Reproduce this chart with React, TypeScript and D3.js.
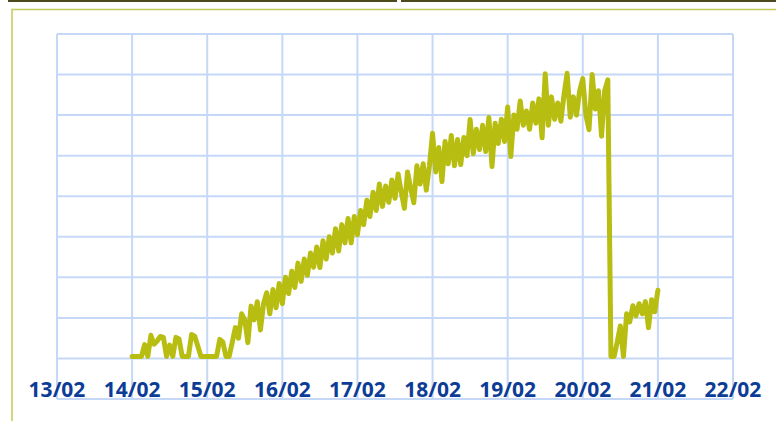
import React, { useEffect, useRef } from "react";
import * as d3 from "d3";

// hourly readings, one array per day (value units: gridline every 10)
const day14 = [0.5, 0.5, 0.5, 0.5, 3.4, 0.5, 5.7, 3.5, 4.3, 5.4, 5.2, 0.5, 3.3, 0.5, 5.2, 4.8, 0.5, 0.5, 0.5, 5.9, 5.5, 3.0, 0.5, 0.5];
const day15 = [0.5, 0.5, 0.5, 0.5, 4.7, 4.0, 0.5, 0.5, 4.0, 7.6, 5.0, 11.0, 9.5, 3.9, 12.9, 9.5, 14.0, 7.0, 13.5, 16.2, 11.0, 17.0, 12.5, 18.5];
const day16 = [13.5, 20.0, 16.0, 21.5, 17.5, 23.5, 19.0, 24.5, 20.5, 26.0, 22.5, 27.5, 22.4, 29.0, 24.5, 30.0, 26.0, 32.0, 26.5, 33.0, 28.5, 34.5, 28.5, 35.0];
const day17 = [30.5, 36.5, 33.0, 39.0, 35.0, 41.0, 36.5, 43.0, 37.5, 42.5, 38.5, 44.0, 39.5, 45.5, 41.0, 37.0, 46.0, 42.0, 38.4, 47.5, 43.0, 48.0, 41.5, 47.5];
const day18 = [55.5, 46.0, 52.0, 43.6, 53.5, 48.0, 55.0, 47.5, 54.0, 47.8, 54.5, 50.0, 58.9, 50.5, 56.5, 51.5, 57.5, 51.0, 59.4, 47.3, 58.0, 53.0, 59.0, 53.5];
const day19 = [62.0, 49.8, 60.0, 56.5, 63.5, 57.5, 61.0, 56.5, 63.0, 58.0, 64.0, 54.4, 70.2, 57.5, 64.5, 59.0, 63.0, 58.5, 65.0, 70.3, 59.5, 64.5, 60.0, 66.0];
const day20 = [69.0, 60.0, 56.4, 70.0, 61.5, 66.0, 54.8, 66.0, 68.7, 0.5, 0.5, 4.0, 8.0, 0.5, 11.0, 9.0, 13.0, 10.5, 13.5, 11.0, 14.0, 7.6, 14.5, 11.5];
const day21 = [16.8];

const tickDays = ["13/02", "14/02", "15/02", "16/02", "17/02", "18/02", "19/02", "20/02", "21/02", "22/02"];
const yTicks = [-10, 0, 10, 20, 30, 40, 50, 60, 70, 80];

const W = 776;
const H = 421;

export default function App() {
  const ref = useRef<SVGSVGElement>(null);

  useEffect(() => {
    const svg = d3.select(ref.current);
    svg.selectAll("*").remove();

    const start = new Date(2021, 1, 14);
    const values = [...day14, ...day15, ...day16, ...day17, ...day18, ...day19, ...day20, ...day21];
    const data = values.map((v, i) => ({ date: d3.timeHour.offset(start, i), value: v }));

    const x = d3.scaleTime()
      .domain([new Date(2021, 1, 13), new Date(2021, 1, 22)])
      .range([57, 733]);
    const y = d3.scaleLinear().domain([-10, 80]).range([399, 34]);

    // photo strip at the very top + frame
    svg.append("rect").attr("x", 8).attr("y", 0).attr("width", 389).attr("height", 2).attr("fill", "#4d4a1c");
    svg.append("rect").attr("x", 401).attr("y", 0).attr("width", 375).attr("height", 2).attr("fill", "#4d4a1c");
    svg.append("rect")
      .attr("x", 12).attr("y", 9.5)
      .attr("width", 900).attr("height", 600)
      .attr("fill", "none")
      .attr("stroke", "#c4c95a")
      .attr("stroke-width", 1.5);

    const days = tickDays.map((_, i) => d3.timeDay.offset(new Date(2021, 1, 13), i));

    const grid = svg.append("g").attr("stroke", "#c6d8f8").attr("stroke-width", 2);
    grid.selectAll("line.h")
      .data(yTicks)
      .join("line")
      .attr("x1", 57).attr("x2", 733)
      .attr("y1", (d) => y(d)).attr("y2", (d) => y(d));
    grid.selectAll("line.v")
      .data(days)
      .join("line")
      .attr("class", "v")
      .attr("x1", (d) => x(d)).attr("x2", (d) => x(d))
      .attr("y1", y(80)).attr("y2", y(-10));

    svg.append("path")
      .datum(data)
      .attr("fill", "none")
      .attr("stroke", "#b8bd12")
      .attr("stroke-width", 5)
      .attr("stroke-linejoin", "round")
      .attr("stroke-linecap", "round")
      .attr("d", d3.line<any>().x((d) => x(d.date)).y((d) => y(d.value)));

    svg.append("g")
      .selectAll("text")
      .data(days)
      .join("text")
      .attr("x", (d) => x(d))
      .attr("y", 397)
      .attr("text-anchor", "middle")
      .attr("font-family", "'Noto Sans', sans-serif")
      .attr("font-weight", 700)
      .attr("font-size", 21)
      .attr("fill", "#0c3c96")
      .text((_, i) => tickDays[i]);
  }, []);

  return (
    <svg
      ref={ref}
      width={W}
      height={H}
      style={{ position: "absolute", left: 0, top: 0, background: "#fff" }}
    />
  );
}
